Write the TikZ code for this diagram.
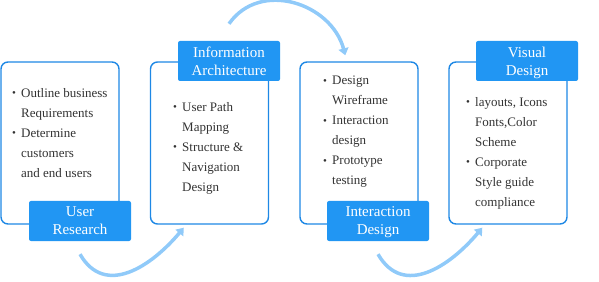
\documentclass[tikz,border=0pt]{standalone}
\usepackage{fontspec}
\setmainfont{Liberation Serif}
\usetikzlibrary{arrows.meta,positioning}
\definecolor{cline}{HTML}{1E88E5}
\definecolor{cfill}{HTML}{2196F3}
\definecolor{carc}{HTML}{90CAF9}
\definecolor{ctext}{HTML}{333333}
\newcommand{\bul}{\makebox[9pt][l]{\raisebox{0.4pt}{\fontsize{11}{11}\selectfont\textbullet}}}
\newcommand{\ind}{\hspace*{9pt}}

\begin{document}
\begin{tikzpicture}[
    x=1pt, y=1pt,
    stage/.style={draw=cline, line width=1.4pt, rounded corners=7pt, minimum width=118pt, minimum height=162pt, inner sep=0pt, fill=white},
    tag/.style={fill=cfill, rounded corners=2pt, minimum width=102pt, minimum height=40pt, inner sep=0pt, align=center, text=white, font=\fontsize{15}{18}\selectfont},
    lst/.style={anchor=north west, inner sep=0pt, align=left, text=ctext, font=\fontsize{13}{20}\selectfont},
    flow/.style={carc, line width=3.5pt, -{Triangle[length=7pt,width=10pt]}},
]
\useasboundingbox (0,0) rectangle (599,281);

% --- stage frames ---
\node[stage] (b1) at (60, 138) {};
\node[stage] (b2) at (209.5, 138) {};
\node[stage] (b3) at (359, 138) {};
\node[stage] (b4) at (508, 138) {};

% --- stage titles ---
\node[tag] (ur) at (80, 60) {User\\Research};
\node[tag] (ia) at (229, 220) {Information\\Architecture};
\node[tag] (id) at (378, 60) {Interaction\\\smash{Design}};
\node[tag] (vd) at (527, 220) {Visual\\\smash{Design}};

% --- stage contents ---
\node[lst] (t1) at (12, 193) {\bul Outline business\\ \ind Requirements\\ \bul Determine\\ \ind customers\\ \ind and end users};
\node[lst] (t2) at (173, 179) {\bul User Path\\ \ind Mapping\\ \bul Structure \&\\ \ind Navigation\\ \ind Design};
\node[lst] (t3) at (323, 205) {\bul Design\\ \ind Wireframe\\ \bul Interaction\\ \ind design\\ \bul Prototype\\ \ind testing};
\node[lst] (t4) at (466, 184) {\bul layouts, Icons\\ \ind Fonts,Color\\ \ind Scheme\\ \bul Corporate\\ \ind Style guide\\ \ind compliance};

% --- flow arcs ---
\draw[flow] ([yshift=-13pt]ur.south) to[out=-60, in=-130, looseness=1.2] ([shift={(34,-3)}]b2.south west);
\draw[flow] ([yshift=17pt]ia.north) to[out=55, in=105, looseness=1.15] ([shift={(46,6)}]b3.north west);
\draw[flow] ([yshift=-13pt]id.south) to[out=-60, in=-130, looseness=1.2] ([shift={(34,-3)}]b4.south west);

\end{tikzpicture}
\end{document}
